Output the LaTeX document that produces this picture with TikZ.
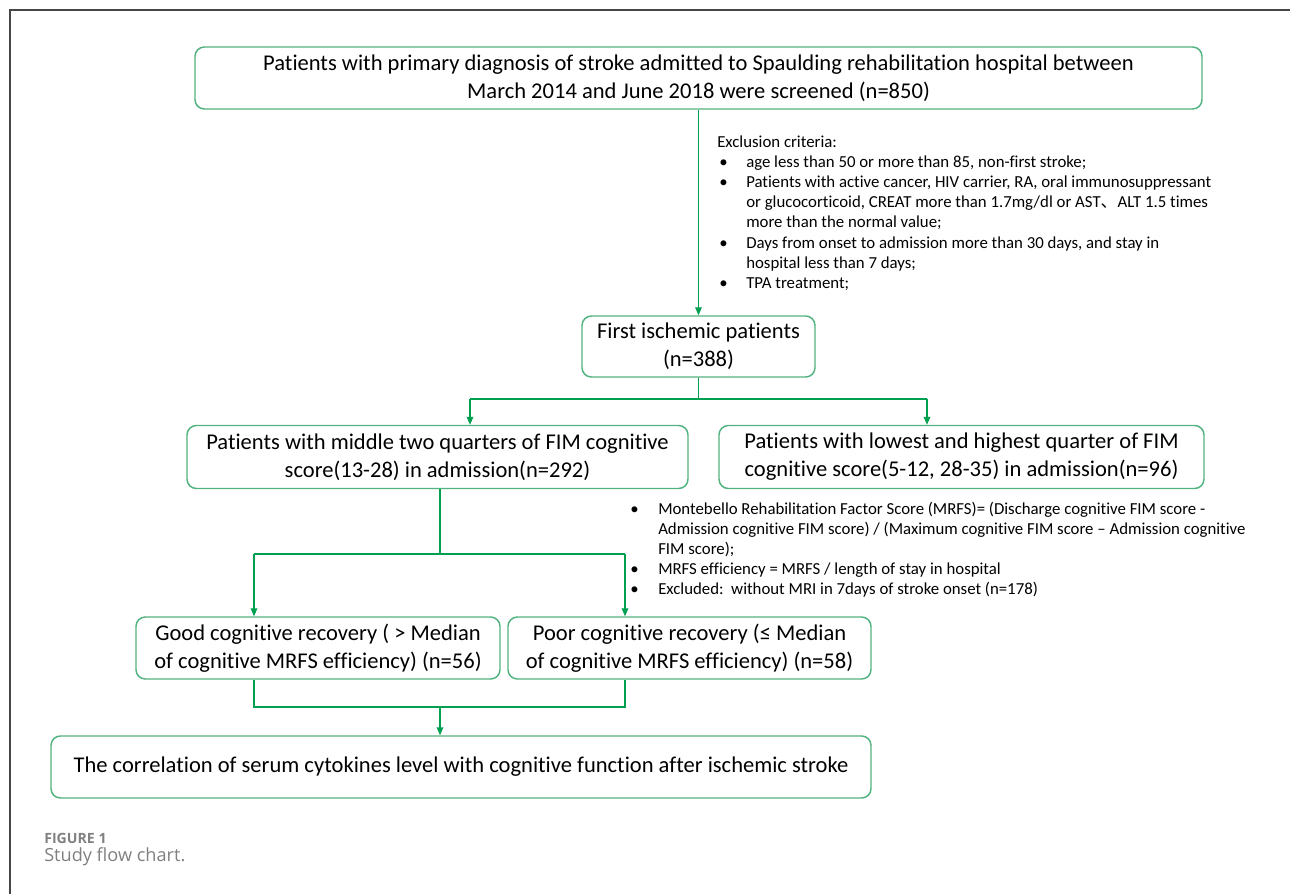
\documentclass[tikz,border=0pt]{standalone}
\usepackage{fontspec}
\setmainfont{Carlito}[Ligatures=NoCommon]
\newfontfamily\capfont{Open Sans}
\newfontfamily\cjkfont{Noto Sans CJK SC}
\usepackage{array}
\usetikzlibrary{arrows.meta}
\definecolor{boxgreen}{RGB}{82,178,128}
\definecolor{arrgreen}{RGB}{0,160,80}
\definecolor{framegray}{RGB}{70,70,70}
\definecolor{capgray}{RGB}{128,128,128}
\newcommand\mybul{\hspace*{1.5pt}\textbullet}
\begin{document}
\begin{tikzpicture}[x=0.75pt,y=-0.75pt,
  flowbox/.style 2 args={draw=boxgreen, line width=1.1pt, rounded corners=7pt,
    minimum width=#1*0.75pt, minimum height=#2*0.75pt, inner sep=0pt,
    align=center, font=\fontsize{16.9}{21}\selectfont},
  conn/.style={draw=arrgreen, line width=0.9pt},
  arr/.style={conn, -{Triangle[length=6pt,width=5pt]}},
  note/.style={anchor=north west, inner sep=0pt, font=\fontsize{12.6}{15.1}\selectfont, align=left}
]
\useasboundingbox (0,0) rectangle (1290,894);
\fill[white] (0,0) rectangle (1290,894);
\draw[framegray, line width=1.1pt] (1290,10) -- (10,10) -- (10,894);

\node[flowbox={1007}{62}] (b1) at (698.5,78) {Patients with primary diagnosis of stroke admitted to Spaulding rehabilitation hospital between\\ March 2014 and June 2018 were screened (n=850)};
\node[flowbox={233}{61}] (b2) at (698.5,346.5) {First ischemic patients\\(n=388)};
\node[flowbox={501}{63}] (b3) at (437.5,457) {Patients with middle two quarters of FIM cognitive\\ score(13-28) in admission(n=292)};
\node[flowbox={485}{63}] (b4) at (961.5,457) {Patients with lowest and highest quarter of FIM\\ cognitive score(5-12, 28-35) in admission(n=96)};
\node[flowbox={364}{62}] (b5) at (318,648) {Good cognitive recovery ( > Median\\ of cognitive MRFS efficiency) (n=56)};
\node[flowbox={363}{62}] (b6) at (689.5,648) {Poor cognitive recovery (≤ Median\\ of cognitive MRFS efficiency) (n=58)};
\node[flowbox={820}{62}] (b7) at (461,767) {The correlation of serum cytokines level with cognitive function after ischemic stroke};

\node[note] (excl) at (717,133) {\begin{tabular}{@{}p{21.75pt}@{}l@{}}
\multicolumn{2}{@{}l@{}}{Exclusion criteria:}\\
\mybul & age less than 50 or more than 85, non-first stroke;\\
\mybul & Patients with active cancer, HIV carrier, RA, oral immunosuppressant\\
 & or glucocorticoid, CREAT more than\ 1.7mg/dl or AST{\cjkfont 、}ALT 1.5 times\\
 & more than the normal value;\\
\mybul & Days from onset to admission more than 30 days, and stay in\\
 & hospital less than 7 days;\\
\mybul & TPA treatment;
\end{tabular}};

\node[note] (mrfs) at (628,500) {\begin{tabular}{@{}p{22.5pt}@{}l@{}}
\mybul & Montebello Rehabilitation Factor Score (MRFS)= (Discharge cognitive FIM score -\\
 & Admission cognitive FIM score) / (Maximum cognitive FIM score – Admission cognitive\\
 & FIM score);\\
\mybul & MRFS efficiency = MRFS / length of stay in hospital\\
\mybul & Excluded:\ \ without MRI in 7days of stroke onset (n=178)
\end{tabular}};

\node[anchor=base west, inner sep=0pt, font=\capfont\bfseries\fontsize{10.6}{12}\selectfont, text=capgray] (fig) at (44,843) {FIGURE 1};
\node[anchor=base west, inner sep=0pt, font=\capfont\fontsize{13.6}{16}\selectfont, text=capgray] (cap) at (44,861) {Study flow chart.};

% connectors
\draw[arr] (b1.south) -- (b2.north);
\coordinate (j1) at (698.5,399);
\coordinate (j1l) at (470,399);
\coordinate (j1r) at (927,399);
\draw[conn] (b2.south) -- (j1);
\draw[conn] (j1l) -- (j1r);
\draw[arr] (j1l) -- (j1l |- b3.north);
\draw[arr] (j1r) -- (j1r |- b4.north);

\coordinate (j2) at (440,554);
\coordinate (j2l) at (254,554);
\coordinate (j2r) at (625,554);
\draw[conn] (j2 |- b3.south) -- (j2);
\draw[conn] (j2l) -- (j2r);
\draw[arr] (j2l) -- (j2l |- b5.north);
\draw[arr] (j2r) -- (j2r |- b6.north);

\coordinate (j3) at (440,707);
\coordinate (j3l) at (254,707);
\coordinate (j3r) at (625,707);
\draw[conn] (j3l |- b5.south) -- (j3l) -- (j3r) -- (j3r |- b6.south);
\draw[arr] (j3) -- (j3 |- b7.north);
\end{tikzpicture}
\end{document}
